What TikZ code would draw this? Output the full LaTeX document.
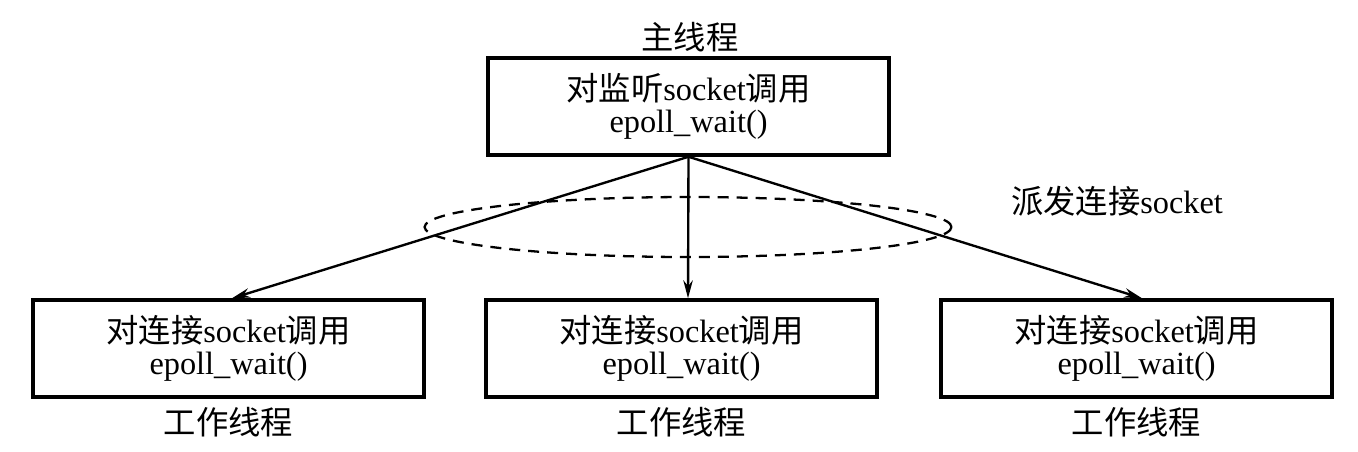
\documentclass[tikz,border=0pt]{standalone}
\usepackage{fontspec}
\setmainfont{Liberation Serif}
\newfontfamily\cjk{Noto Sans CJK SC}
\usetikzlibrary{arrows.meta}

\begin{document}
\begin{tikzpicture}[x=0.02cm,y=-0.02cm,>={Stealth[length=3.6mm,width=1.9mm]},
  every node/.style={font=\fontsize{18.4}{18.6}\selectfont},
  threadbox/.style={draw,line width=2pt,align=center,minimum width=7.82cm,minimum height=1.94cm,inner sep=0pt},
  link/.style={->,line width=1.35pt}]
\useasboundingbox (0,0) rectangle (1358,451);
% main thread
\node[threadbox,minimum width=8.02cm] (main) at (688.5,106.5) {{\cjk 对监听}socket{\cjk 调用}\\epoll\_wait()};
\node at (690,37) {\cjk 主线程};
% worker threads
\node[threadbox] (w1) at (228.5,348.5) {{\cjk 对连接}socket{\cjk 调用}\\epoll\_wait()};
\node[threadbox] (w2) at (681.5,348.5) {{\cjk 对连接}socket{\cjk 调用}\\epoll\_wait()};
\node[threadbox] (w3) at (1136.5,348.5) {{\cjk 对连接}socket{\cjk 调用}\\epoll\_wait()};
\node at (228.5,422) {\cjk 工作线程};
\node at (681.5,422) {\cjk 工作线程};
\node at (1136.5,422) {\cjk 工作线程};
% dispatch
\draw[link] (main.south) -- ([xshift=0.07cm]w1.north);
\draw[link] (main.south) -- ([xshift=0.13cm]w2.north);
\draw[link] (main.south) -- ([xshift=0.11cm]w3.north);
\draw[line width=1.3pt,dash pattern=on 0.22cm off 0.16cm] (688,227) ellipse [x radius=5.27cm,y radius=0.6cm];
\node at (1117,201) {{\cjk 派发连接}socket};
\end{tikzpicture}
\end{document}
